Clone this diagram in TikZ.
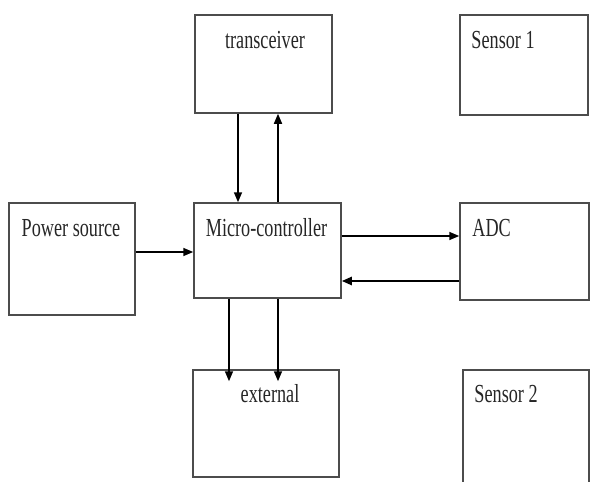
\documentclass[tikz,border=0pt]{standalone}
\usepackage{fontspec}
\setmainfont{Liberation Serif}[FakeStretch=0.7]
\usetikzlibrary{arrows.meta}

\tikzset{
  blk/.style={draw=black!70, line width=1.5pt, inner sep=0pt},
  lbl/.style={font=\fontsize{26}{28}\selectfont, text=black!85, inner sep=0pt},
  arr/.style={-{Triangle[length=10pt,width=8pt]}, line width=1.6pt},
}

\begin{document}
\begin{tikzpicture}[x=1pt,y=-1pt]
%set diagram frame 590 x 482
\useasboundingbox (0,0) rectangle (590,482);
\clip (0,0) rectangle (590,482);

%Shape: Rectangle [transceiver]
\node[blk, minimum width=137, minimum height=98,
  label={[lbl,anchor=base,xshift=1.5pt,yshift=-34pt]north:transceiver}] (trans) at (263.5,64) {};
%Shape: Rectangle [Sensor 1]
\node[blk, minimum width=128, minimum height=100,
  label={[lbl,anchor=base west,xshift=12pt,yshift=-34pt]north west:Sensor 1}] (sens1) at (524,65) {};
%Shape: Rectangle [Power source]
\node[blk, minimum width=126, minimum height=112,
  label={[lbl,anchor=base,xshift=-1pt,yshift=-34pt]north:Power source}] (power) at (72,259) {};
%Shape: Rectangle [Micro-controller]
\node[blk, minimum width=147, minimum height=95,
  label={[lbl,anchor=base,xshift=-1pt,yshift=-34pt]north:Micro-controller}] (micro) at (267.5,250.5) {};
%Shape: Rectangle [ADC]
\node[blk, minimum width=129, minimum height=97,
  label={[lbl,anchor=base west,xshift=13pt,yshift=-34pt]north west:ADC}] (adc) at (524.5,251.5) {};
%Shape: Rectangle [external]
\node[blk, minimum width=146, minimum height=107,
  label={[lbl,anchor=base,xshift=4pt,yshift=-33pt]north:external}] (ext) at (266,423.5) {};
%Shape: Rectangle [Sensor 2] (runs off the bottom)
\node[blk, minimum width=126, minimum height=140,
  label={[lbl,anchor=base west,xshift=12pt,yshift=-33pt]north west:Sensor 2}] (sens2) at (526,440) {};

%Straight Lines [transceiver -> micro]
\draw[arr] ([xshift=-25.5pt]trans.south) -- ([xshift=-29.5pt]micro.north);
%Straight Lines [micro -> transceiver]
\draw[arr] ([xshift=10.5pt]micro.north) -- ([xshift=14.5pt]trans.south);
%Straight Lines [power -> micro]
\draw[arr] ([yshift=-1.5pt]power.east |- micro.west) -- ([yshift=-1.5pt]micro.west);
%Straight Lines [micro -> ADC]
\draw[arr] ([yshift=14.5pt]micro.east) -- ([yshift=15.5pt]adc.west);
%Straight Lines [ADC -> micro]
\draw[arr, line width=2.3pt] ([yshift=-29.5pt]adc.west) -- ([yshift=-30.5pt]micro.east);
%Straight Lines [micro -> external]
\draw[arr, shorten >=-12pt] ([xshift=-38.5pt]micro.south) -- ([xshift=-37pt]ext.north);
\draw[arr, shorten >=-12pt] ([xshift=10.5pt]micro.south) -- ([xshift=12pt]ext.north);
\end{tikzpicture}
\end{document}
